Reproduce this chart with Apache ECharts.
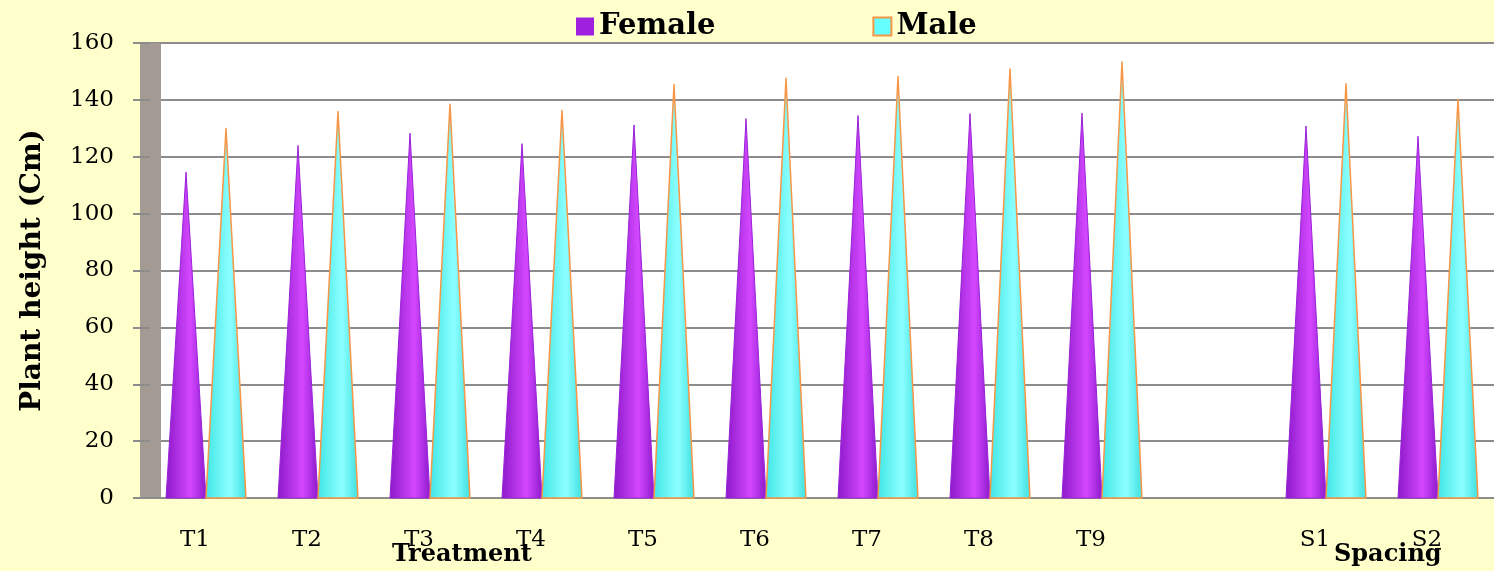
<!DOCTYPE html>
<html><head><meta charset="utf-8">
<script src="https://cdn.jsdelivr.net/npm/echarts@6/dist/echarts.min.js"></script>
<style>html,body{margin:0;padding:0;background:#FFFFCC;}#c{width:1494px;height:571px;}</style>
</head><body><div id="c"></div>
<script>
const categories = ['T1','T2','T3','T4','T5','T6','T7','T8','T9','','S1','S2'];
const female = [114.6,124.0,128.3,124.6,131.2,133.4,134.5,135.2,135.3,null,130.8,127.2];
const male = [129.9,135.9,138.5,136.3,145.4,147.6,148.2,150.9,153.3,null,145.7,140.1];
const yTicks = [0,20,40,60,80,100,120,140,160];

const serif = '"DejaVu Serif", "Liberation Serif", serif';
const femaleFill = {type:'linear',x:0,y:0,x2:1,y2:0,colorStops:[
  {offset:0,color:'#8a18c8'},{offset:0.6,color:'#d448ff'},{offset:1,color:'#8c1acc'}]};
const maleFill = {type:'linear',x:0,y:0,x2:1,y2:0,colorStops:[
  {offset:0,color:'#40e6e6'},{offset:0.6,color:'#8cffff'},{offset:1,color:'#3edede'}]};

function toData(arr){
  const out = [];
  arr.forEach((v,i)=>{ if(v!=null) out.push([i,v]); });
  return out;
}
function coneRenderer(side, fill, stroke, lw){
  return function(params, api){
    const idx = api.value(0), val = api.value(1);
    const top = api.coord([idx, val]);
    const base = api.coord([idx, 0]);
    const band = api.size([1,0])[0];
    const w = band * 0.357;
    const cx = top[0] + side * w / 2;
    return {
      type:'polygon',
      shape:{points:[[cx - w/2, base[1]],[cx, top[1]],[cx + w/2, base[1]]]},
      style:{fill:fill, stroke:stroke, lineWidth:lw, lineJoin:'round'}
    };
  };
}

const chart = echarts.init(document.getElementById('c'), null, {renderer:'canvas'});
chart.setOption({
  backgroundColor:'#FFFFCC',
  animation:false,
  legend:{
    top:7, left:571, itemWidth:18, itemHeight:18, itemGap:157,
    textStyle:{fontFamily:serif, fontWeight:'bold', fontSize:29, color:'#000'},
    data:[
      {name:'Female', icon:'rect', itemStyle:{color:'#a020e0', borderWidth:0}},
      {name:'Male', icon:'rect', itemStyle:{color:'#66ffff', borderColor:'#f79646', borderWidth:2}}
    ]
  },
  grid:{left:150, right:0, top:43, bottom:73, show:true, backgroundColor:'#ffffff', borderWidth:0},
  xAxis:{
    type:'category', data:categories,
    axisLine:{show:true, lineStyle:{color:'#8c8c8c', width:2}},
    axisTick:{show:false},
    axisLabel:{fontFamily:serif, fontSize:23, color:'#000', margin:31, padding:[0,22,0,0]}
  },
  yAxis:{
    type:'value', min:yTicks[0], max:yTicks[yTicks.length-1], interval:20,
    axisLine:{show:true, lineStyle:{color:'#a39a94', width:21, cap:'butt'}},
    axisTick:{show:true, length:17, lineStyle:{color:'#8c8c8c', width:2}},
    splitLine:{show:true, lineStyle:{color:'#8c8c8c', width:2}},
    axisLabel:{fontFamily:serif, fontSize:23, color:'#000', margin:36},
    name:'Plant height (Cm)', nameLocation:'middle', nameGap:103, nameRotate:90,
    nameTextStyle:{fontFamily:serif, fontWeight:'bold', fontSize:28, color:'#000'}
  },
  graphic:[
    {type:'text', left:392, top:543, style:{text:'Treatment', font:'bold 24px "DejaVu Serif"', fill:'#000'}},
    {type:'text', left:1334, top:543, style:{text:'Spacing', font:'bold 24px "DejaVu Serif"', fill:'#000'}}
  ],
  series:[
    {name:'Female', type:'custom', data:toData(female), encode:{x:0,y:1},
     renderItem:coneRenderer(-1, femaleFill, '#9a22d8', 1)},
    {name:'Male', type:'custom', data:toData(male), encode:{x:0,y:1},
     renderItem:coneRenderer(1, maleFill, '#f79646', 1.5)}
  ]
});
</script></body></html>
